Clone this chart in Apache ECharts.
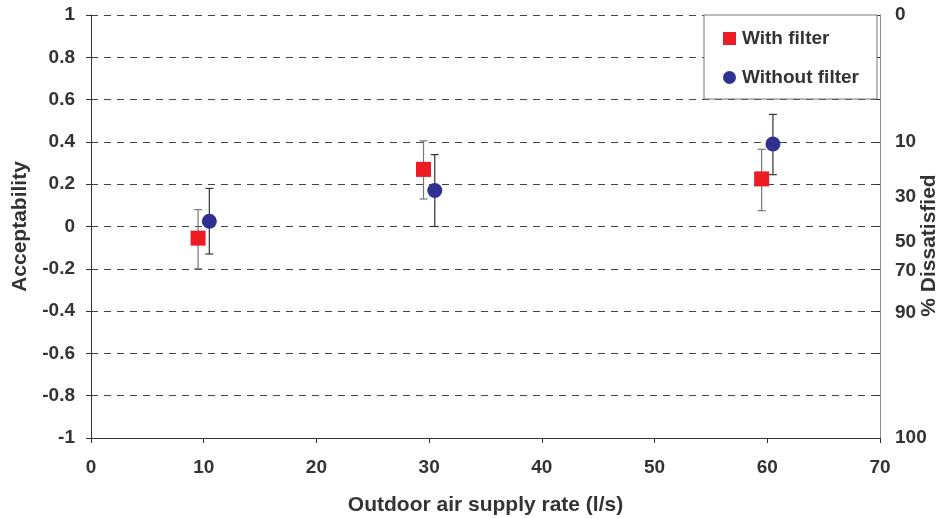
<!DOCTYPE html>
<html>
<head>
<meta charset="utf-8">
<script src="https://cdn.jsdelivr.net/npm/echarts@6/dist/echarts.min.js"></script>
<style>
  html, body { margin: 0; padding: 0; background: #fff; }
  #chart { width: 940px; height: 518px; }
</style>
</head>
<body>
<div id="chart"></div>
<script>
// Acceptability (mean with error bars) against outdoor air supply rate
const withFilterX = [9.5, 29.5, 59.5];
const withFilterMean = [-0.055, 0.27, 0.225];
const withFilterLow = [-0.2, 0.13, 0.075];
const withFilterHigh = [0.08, 0.405, 0.365];

const withoutFilterX = [10.5, 30.5, 60.5];
const withoutFilterMean = [0.025, 0.17, 0.39];
const withoutFilterLow = [-0.13, 0.0, 0.245];
const withoutFilterHigh = [0.18, 0.34, 0.53];

// Secondary scale: percentage dissatisfied at matching acceptability values
const dissatisfiedLabels = ['0', '10', '30', '50', '70', '90', '100'];
const dissatisfiedAt = [1, 0.4, 0.14, -0.07, -0.21, -0.41, -1];

const acceptTicks = [-1, -0.8, -0.6, -0.4, -0.2, 0, 0.2, 0.4, 0.6, 0.8, 1];

const FONT = '"Liberation Sans", Arial, sans-serif';
const TXT = '#333';

function zip3(x, lo, hi) { return x.map((v, i) => [v, lo[i], hi[i]]); }
function zip2(x, y) { return x.map((v, i) => [v, y[i]]); }

function errorBars(color) {
  return function (params, api) {
    const x = api.value(0);
    const top = api.coord([x, api.value(2)]);
    const bot = api.coord([x, api.value(1)]);
    const w = 4;
    const style = { stroke: color, lineWidth: 1.2 };
    return {
      type: 'group',
      children: [
        { type: 'line', shape: { x1: top[0], y1: top[1], x2: bot[0], y2: bot[1] }, style },
        { type: 'line', shape: { x1: top[0] - w, y1: top[1], x2: top[0] + w, y2: top[1] }, style },
        { type: 'line', shape: { x1: bot[0] - w, y1: bot[1], x2: bot[0] + w, y2: bot[1] }, style }
      ]
    };
  };
}

const chart = echarts.init(document.getElementById('chart'), null, { renderer: 'canvas' });

chart.setOption({
  animation: false,
  backgroundColor: '#fff',
  textStyle: { fontFamily: FONT },
  grid: { left: 91, right: 60, top: 15, bottom: 80, containLabel: false, outerBoundsMode: 'none' },
  legend: {
    data: [
      { name: 'With filter', icon: 'rect' },
      { name: 'Without filter', icon: 'circle' }
    ],
    orient: 'vertical',
    left: 704,
    top: 15,
    padding: [14, 18, 12, 19],
    itemGap: 20,
    itemWidth: 13,
    itemHeight: 13,
    backgroundColor: '#fff',
    borderColor: '#777',
    borderWidth: 1,
    borderRadius: 0,
    textStyle: { fontFamily: FONT, fontWeight: 'bold', fontSize: 19, color: TXT, padding: [0, 0, 0, 1] }
  },
  xAxis: {
    type: 'value',
    min: 0,
    max: 70,
    interval: 10,
    name: 'Outdoor air supply rate (l/s)',
    nameLocation: 'middle',
    nameGap: 57,
    nameTextStyle: { fontFamily: FONT, fontWeight: 'bold', fontSize: 21, color: TXT },
    axisLine: { onZero: false, lineStyle: { color: '#333', width: 1 } },
    axisTick: { show: true, length: 5, lineStyle: { color: '#333' } },
    axisLabel: { margin: 20, fontFamily: FONT, fontWeight: 'bold', fontSize: 19, color: TXT },
    splitLine: { show: false }
  },
  yAxis: [
    {
      type: 'value',
      min: -1,
      max: 1,
      interval: 0.2,
      name: 'Acceptability',
      nameLocation: 'middle',
      nameGap: 60,
      nameRotate: 90,
      nameMoveOverlap: false,
      nameTextStyle: { fontFamily: FONT, fontWeight: 'bold', fontSize: 21, color: TXT },
      axisLine: { show: true, lineStyle: { color: '#333', width: 1 } },
      axisTick: { show: true, length: 5, lineStyle: { color: '#333' } },
      axisLabel: {
        margin: 16,
        fontFamily: FONT, fontWeight: 'bold', fontSize: 19, color: TXT,
        formatter: v => String(Math.round(v * 10) / 10)
      },
      splitLine: { show: true, lineStyle: { color: '#444', type: [7, 6], width: 1 } }
    },
    {
      type: 'value',
      min: -1,
      max: 1,
      position: 'right',
      name: '% Dissatisfied',
      nameLocation: 'middle',
      nameGap: 39,
      nameRotate: 90,
      nameMoveOverlap: false,
      nameTextStyle: { fontFamily: FONT, fontWeight: 'bold', fontSize: 21, color: TXT, padding: [0, 38, 0, 0] },
      axisLine: { show: true, lineStyle: { color: '#9c8484', width: 1 } },
      axisTick: { show: true, inside: true, length: 5, customValues: acceptTicks, lineStyle: { color: '#333' } },
      axisLabel: {
        margin: 15,
        customValues: dissatisfiedAt,
        fontFamily: FONT, fontWeight: 'bold', fontSize: 19, color: TXT,
        formatter: v => {
          const i = dissatisfiedAt.findIndex(d => Math.abs(d - v) < 1e-6);
          return i >= 0 ? dissatisfiedLabels[i] : '';
        }
      },
      splitLine: { show: false }
    }
  ],
  series: [
    {
      name: 'With filter range',
      type: 'custom',
      renderItem: errorBars('#777'),
      data: zip3(withFilterX, withFilterLow, withFilterHigh),
      encode: { x: 0, y: [1, 2] },
      z: 2,
      silent: true
    },
    {
      name: 'Without filter range',
      type: 'custom',
      renderItem: errorBars('#333'),
      data: zip3(withoutFilterX, withoutFilterLow, withoutFilterHigh),
      encode: { x: 0, y: [1, 2] },
      z: 2,
      silent: true
    },
    {
      name: 'With filter',
      type: 'scatter',
      symbol: 'rect',
      symbolSize: 15,
      itemStyle: { color: '#ed1c24', opacity: 1 },
      data: zip2(withFilterX, withFilterMean),
      z: 3
    },
    {
      name: 'Without filter',
      type: 'scatter',
      symbol: 'circle',
      symbolSize: 15,
      itemStyle: { color: '#2e3192', opacity: 1 },
      data: zip2(withoutFilterX, withoutFilterMean),
      z: 3
    }
  ]
});
</script>
</body>
</html>
